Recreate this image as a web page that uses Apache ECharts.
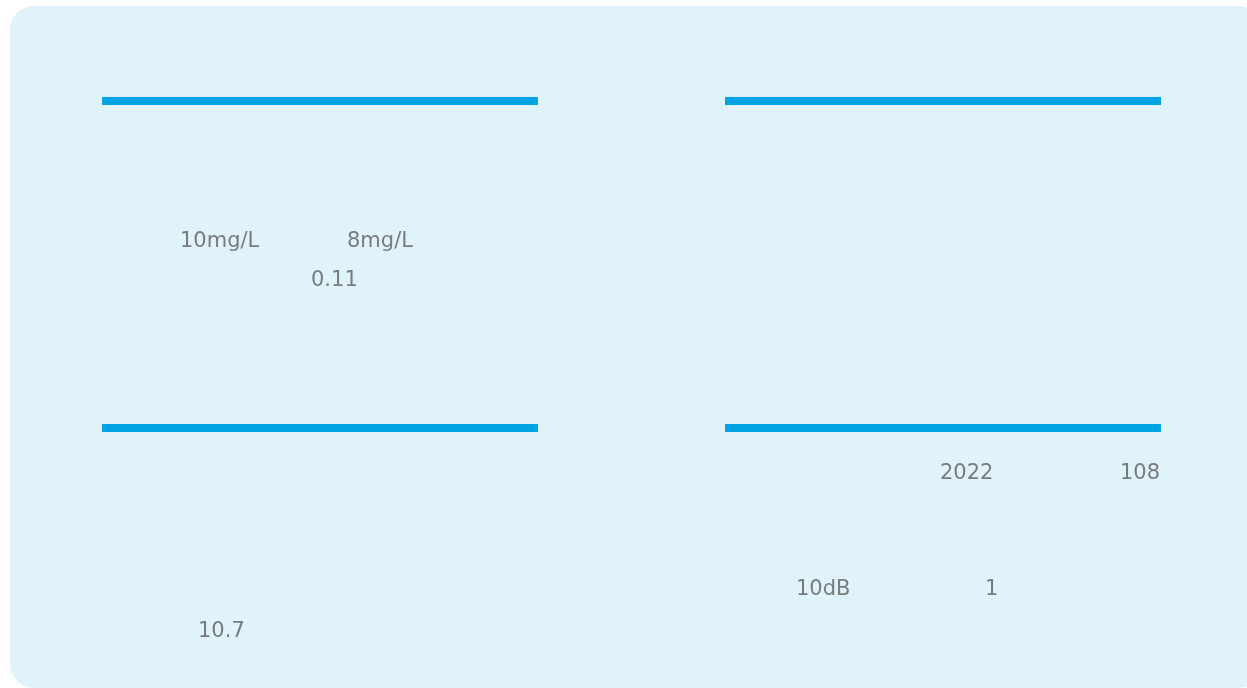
<!DOCTYPE html>
<html>
<head>
<meta charset="utf-8">
<script src="https://cdn.jsdelivr.net/npm/echarts@6/dist/echarts.min.js"></script>
<style>
  html, body { margin: 0; padding: 0; background: #fff; }
  #main { width: 1247px; height: 688px; }
</style>
</head>
<body>
<div id="main"></div>
<script>
// section header rules (start x, end x, y) in page units
var ruleStartX = [102, 725, 102, 725];
var ruleEndX   = [538, 1161, 538, 1161];
var ruleY      = [101, 101, 428, 428];

// text fragments that survive on the sheet
var labelText = ['10mg/L', '8mg/L', '0.11', '2022', '108', '10dB', '1', '10.7'];
var labelX    = [180, 347, 311, 940, 1120, 796, 985, 198];
var labelY    = [242, 242, 281, 474, 474, 590, 590, 632];

var chart = echarts.init(document.getElementById('main'));

var ruleData = [];
for (var i = 0; i < ruleY.length; i++) {
  ruleData.push({ coords: [[ruleStartX[i], ruleY[i]], [ruleEndX[i], ruleY[i]]] });
}
var labelData = [];
for (var j = 0; j < labelText.length; j++) {
  labelData.push({ name: labelText[j], value: [labelX[j], labelY[j]] });
}

var option = {
  backgroundColor: '#ffffff',
  animation: false,
  graphic: [{
    type: 'rect',
    z: -10,
    shape: { x: 10, y: 6, width: 1252, height: 682, r: 24 },
    style: { fill: '#e0f3fa' }
  }],
  grid: { left: 0, right: 0, top: 0, bottom: 0 },
  xAxis: { type: 'value', min: 0, max: 1247, show: false },
  yAxis: { type: 'value', min: 0, max: 688, inverse: true, show: false },
  series: [
    {
      type: 'lines',
      coordinateSystem: 'cartesian2d',
      polyline: false,
      lineStyle: { color: '#00a3e4', width: 8, opacity: 1, cap: 'butt' },
      data: ruleData
    },
    {
      type: 'scatter',
      symbolSize: 0,
      label: {
        show: true,
        position: 'inside',
        align: 'left',
        verticalAlign: 'middle',
        formatter: '{b}',
        color: '#5e5e5e',
        fontSize: 21,
        fontFamily: 'DejaVu Sans'
      },
      data: labelData
    }
  ]
};
chart.setOption(option);
</script>
</body>
</html>
